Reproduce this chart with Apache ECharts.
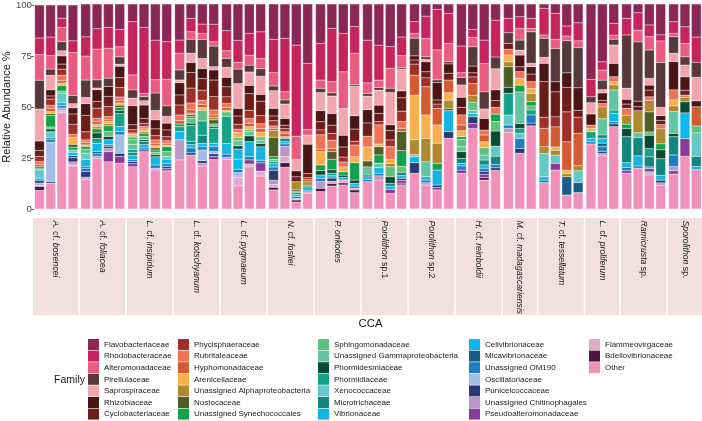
<!DOCTYPE html>
<html>
<head>
<meta charset="utf-8">
<script src="https://cdn.jsdelivr.net/npm/echarts@6.0.0/dist/echarts.min.js"></script>
<style>
  html, body { margin: 0; padding: 0; background: #fff; }
  #chart { width: 702px; height: 421px; }
</style>
</head>
<body>
<div id="chart"></div>
<script>
// family order = legend order (top of each stack first)
var families = [
    'Flavobacteriaceae', 'Rhodobacteraceae', 'Alteromonadaceae', 'Pirellulaceae', 'Saprospiraceae', 'Rhizobiaceae', 'Cyclobacteriaceae',
    'Phycisphaeraceae', 'Rubritaleaceae', 'Hyphomonadaceae', 'Arenicellaceae', 'Unassigned Alphaproteobacteria', 'Nostocaceae', 'Unassigned Synechococcales',
    'Sphingomonadaceae', 'Unassigned Gammaproteobacteria', 'Phormidesmiaceae', 'Phormidiaceae', 'Xenococcaceae', 'Microtrichaceae', 'Vibrionaceae',
    'Cellvibrionaceae', 'Micavibrionaceae', 'Unassigned OM190', 'Oscillatoriaceae', 'Puniceicoccaceae', 'Unassigned Chitinophagales', 'Pseudoalteromonadaceae',
    'Flammeovirgaceae', 'Bdellovibrionaceae', 'Other'
];
var familyColors = [
    '#8b2756', '#c5245c', '#ea5b80', '#57393c', '#f2a5ac', '#4a1515', '#6b1e19',
    '#a02f2b', '#ef7456', '#d25b31', '#f6b14c', '#ae892f', '#4e5e25', '#15a149',
    '#5ec27c', '#62c4a2', '#0c4a33', '#14a386', '#63c8c9', '#13877d', '#16b4e0',
    '#0bb9ee', '#165e86', '#1f7dc8', '#a0bee6', '#2b3a72', '#b997ca', '#8a3a9d',
    '#e3a9cb', '#4b1641', '#f191bb'
];

var facetNames = [
    'A. cf. bosencei', 'A. cf. foliacea', 'L. cf. insipidum', 'L. cf. kotschyanum', 'L. cf. pygmaeum',
    'N. cf. fosliei', 'P. onkodes', 'Porolithon sp.1', 'Porolithon sp.2', 'H. cf. reinboldii',
    'M. cf. madagascariensis', 'T. cf. tessellatum', 'L. cf. proliferum', 'Ramicrusta sp.', 'Sporolithon sp.'
];

// one row per sample, values in family order (%)
var bosencei = [
    [16,8,12.5,14,15.5,4.5,3, 2.5,1.5,1,0,0,0,1, 0.5,0,0,0,4,0,0, 1,1.5,0,0,0,1,0, 0.5,2,9],
    [15.5,9,6.5,3,7,3,1.5, 3,1.5,1.5,1,0,1,5.5, 1,0,1.3,0,3,0.8,0, 0,0,1.3,19,0.8,0,0, 0,0,12.5],
    [6.5,4.5,7,4.5,2.5,4,2.5, 3,2.5,1.3,1.2,0,0,2.8, 1,0,0,0,4.5,0,1.6, 0,0,1.2,0,0,1.3,0, 0.8,0,47.5],
    [17.5,5.7,21,4,2,3,5, 5,1.5,0,3.3,0,1.5,1.3, 0,0,0,0,1.1,0,0, 1.6,1.1,0,0,2,1.5,0, 0.5,0,21]
];
var foliacea = [
    [16,9.4,11.7,8.5,3,5.7,8, 4,1.3,1.1,0.8,0,0,1.3, 2,0,0,0,3,0,3.6, 0,0.7,1.6,0,2.8,1,0, 0,0,14.5],
    [12,10,15,4,0.8,5.7,3.3, 5,1.6,1.3,1.1,1.1,0,2, 0,0,2.6,2.4,0,0,0, 4,1.1,1.3,0,0,1,0, 0,0,24.7],
    [11.4,10.2,14.6,4,0,4.9,4.9, 4.9,1.6,0.8,1.1,1,0,2.8, 2.4,0,1.6,0,0,0,0, 2.4,0,0.8,0,1.1,1.5,5, 0,0,23],
    [12.4,8.5,4.9,3.6,1,5.5,4.9, 4.6,1.6,1.3,1.1,0,1.1,1.6, 0,0,1.3,6.5,0,0,2.4, 0,0,1.6,9,1.6,0,3.3, 0,0,22.3]
];
var insipidum = [
    [8.6,26,7.3,4,3.7,9.3,2.4, 1.6,0.8,0,0.8,0.8,0,0.8, 2.4,2.4,0,1.5,0,1.5,2, 0,0,1,0,1,0,1.5, 0,0,20.6],
    [11.4,32.2,1.6,2,2.1,6.5,2.4, 1.6,0.8,0.8,0.8,0.8,0,1.6, 1.6,0,0.8,0,0,1.6,0, 1.6,0,1,0,0.8,0,0, 0,0,28],
    [17.6,19.2,6.5,8.5,4.5,4.4,3.3, 2.1,1.6,1.1,1.1,0,1.1,1.1, 1.1,0,1.1,0,0,0,4, 0,0,1.6,0,0,0.8,0, 0,0,19],
    [18.4,18.4,13,5.2,3.3,3.3,3.3, 2,1.3,0.8,0.8,0,0,2.4, 2.4,0,0,0,1.3,0,0, 2.3,0,1.3,0,1,0,1.1, 0,0,18.7]
];
var kotschyanum = [
    [17.6,6.5,8.1,4.9,1.3,6,4.9, 4.9,2.8,1.6,0,0,0,1.3, 0,0,0,2.4,0,0,0, 4,0,0,0,0,9.8,0, 0,0,24],
    [7,6.5,3.7,6.8,4.5,4.9,7.6, 7.3,3.3,1.6,0,0.8,0.8,0.9, 2.4,0,1.1,7.8,0,1.6,0, 1.6,0,2.4,0,1.1,0,0, 0,0,26.3],
    [9.8,4.6,2.9,9.3,4.9,4.9,5.7, 4.9,2,1.6,1.3,0,0,0, 5.2,0,0,7,0,4,0, 1.6,0,1.6,5.2,1.3,1.3,0, 0,0,21],
    [9.8,8.6,2.1,10,1.6,4.9,8.1, 6.5,2.4,1.1,0,1.3,2,0, 1.3,0,0.8,7.3,0,0,0, 1.6,0,2.4,1.1,1.3,0,1.6, 0,0,24]
];
var pygmaeum = [
    [13,9.8,3.7,4.4,4.9,4.6,4.9, 3.3,2,1.3,0.8,0,0,0, 2.1,0,0,13.3,0,0,5.2, 0,0,1.6,0,0,1,0, 0,0,24.2],
    [17.6,10.6,3.3,7,12,3.7,4, 2.4,1.6,0,2.4,0,0,0, 1.6,2.4,1.6,0,0,0,4.9, 4.9,0,1.6,2.4,0,0,0, 4,0,11.2],
    [14.3,10.6,4.9,3.3,6.5,4,8.1, 4,2.4,1.6,1.3,0,0,0, 1.1,2.1,2.8,0,0,0,7.3, 0,0,1.6,0,0,0,2, 1.3,0,20.6],
    [13.5,13,4.9,3.7,8.8,3.3,7, 4,2.4,1.6,2.4,0,0,0, 1.6,1.6,1.6,0,0,0,6.5, 0,0,1.3,0,0,0,4, 2.4,0,16]
];
var fosliei = [
    [17.2,16.3,6.5,2.3,8.6,3.7,2.3, 2.6,1.1,1.1,0,3.3,9.4,1.3, 1.1,0,0,1.1,0,0,1.6, 0,0,1.6,0,4.9,2.1,0, 1.3,1.3,9.3],
    [16.7,26,4,2,7,3.3,1.6, 1.6,0.8,1.6,0.8,0,0,0, 0,0,0,0,0,1.6,1.1, 0,0,1.3,0,0,4.9,0, 2.9,2.3,20.3],
    [20,44.4,11.4,0,5.5,2.9,2.4, 0,0,0,0,4,0.8,0.5, 0,0,0,1.1,0,0,0.8, 0,0,1,0,0,0,0, 0.7,1,3.4],
    [29,32.2,2.8,0,4.4,14.3,2, 1,0,1.1,0,1.6,0,0.8, 0,0,0,0,0,0,1.6, 0,0,0.8,0,0,0,0, 0.8,0,7.6]
];
var onkodes = [
    [19.2,17.9,4,2.1,8.8,5.4,4, 2.4,7,1.2,6.5,0,0,2.8, 0,0,2.1,0,0,0,1.6, 0,0,1.6,0,0,3.3,0, 0,1.6,8.5],
    [11.9,26,5.4,1.6,8.5,5.7,4, 3.3,4,1.6,0,0,3.7,5.2, 0,0,1.6,1.3,0,0,1.1, 0,0,0,0,1.6,0,0, 1,1.3,11.2],
    [14.3,18.7,17.9,0,13,5.7,4.9, 2.4,2.4,0,2.4,0,0,1.6, 0,0,1.1,0,0,0,1.3, 0,0,0,0,0,0,0, 1.4,1,11.7],
    [11,13,15.4,0.8,14.3,6.5,6, 1.8,5.7,0,2.9,0,0,8.5, 0,0,1.6,0,0,0,1.3, 0,0,1.1,0,0,0.8,0, 0,1.3,8]
];
var porolithon1 = [
    [17.6,20.8,5.2,1.3,6.5,6.5,6.5, 0,5.2,0,6.8,0,2.9,0, 0,4,0.8,0,0,0,1.3, 0,0,1.1,0,0,0,0, 0,0,13.3],
    [20,17,3.6,1.3,7.3,4,4, 1.6,9.3,0,1.3,0,4,4, 0,2,0,0,0,0,2.9, 0,0,1.3,0,0,2,0, 0,0,14.1],
    [20.8,10.6,9.8,2.1,15.8,2.8,4.6, 3.3,6.2,0,2,1.6,0,0, 4.9,0,3.3,0,0,1.3,1.6, 0,0,0,0,0,0,2, 0,0,7.6],
    [16,9,5.7,0.8,10.6,3.3,6.5, 5,3.3,1.5,0,0,9.3,7.6, 2.9,0,0,0,0,1.6,0, 1.3,0,0,0,1.1,0,1.3, 0,0.8,11.7]
];
var porolithon2 = [
    [8.6,5.7,2.4,8.6,0,2,2, 5.4,0,9.8,21.7,7.3,0,0, 0,0,0,0,1,0,0, 2.9,0,0,0,5.2,0,0, 0,0,17.4],
    [5.9,10.9,8.9,1.3,1.1,4.9,3, 4.3,0,13.8,11.4,11.4,0,0, 0,7.3,0,0,0,0,1.6, 0,0,1.3,0,0,1.1,0, 0,0,11.7],
    [2.6,19.8,14.6,1.3,0,8.5,2, 2.1,0,8.1,8.9,9.8,0,3.3, 0,0,0,0,0,0,7.3, 0,0,0,0,1.2,0,1.2, 0,0,9.3],
    [4.6,14.6,8.9,1.1,0,4.6,3.3, 0,0,6.2,3.6,4,1.1,0, 0,0,0,0,0,0,10.2, 0,0,0,0,3.3,0,0, 0,0,34.5]
];
var reinboldii = [
    [20.5,13,2.3,3.7,6,4.9,3.7, 0,4.9,2.8,2.9,0,0,1.3, 3.6,2.4,3.3,0,0,2.4,1.3, 0,0,2,0,0,0,1.6, 0,0,17.4],
    [12.4,3.9,4.6,9.4,0,3.3,2, 3.3,0,5.7,0,3.3,0,0, 4,1.6,0,0,0,0,1.6, 0,0,0,0,3.3,0,2.4, 0,0,39.3],
    [17.6,11.4,13.8,8.4,4.6,5.7,0, 0,2.4,3.3,2.9,0,0,0, 3.6,2.4,0,0,0,2.4,1.6, 0,0,1.6,0,1.3,0,1.6, 0,1.3,14.1],
    [7.8,17.9,0,5.7,10.2,5.2,3.3, 0,3.3,0,0,0,0,3.6, 4.6,0,7.3,0,4.9,4,0, 0,0,1.6,0,1.3,0,0, 0,0,18.7]
];
var madagascariensis = [
    [7,7,0,5.2,0,0,2.9, 0,2.8,0,3.3,2.4,10,0, 0,0,2.9,10.6,4.9,0,0, 0,0,1.6,0,0,2.1,0, 0,0,37.2],
    [6.2,5.7,5.7,4.9,2.4,5.7,2.4, 0,3.3,0,3.3,0,0,3.3, 0,15.4,2.4,2.4,2.4,0,0, 0,0,4.9,0,2.4,0,0, 0,0,27.2],
    [7,4.9,1.6,15.4,1.6,3.6,3.7, 0,3.3,0,2.4,4,0,2.1, 2,0,0,2.4,0,0,0, 0,0,4,0,1.3,0,0, 0,0,40.5]
];
var tessellatum = [
    [2.1,13,1.6,9.3,2.9,8.9,17.4, 5.4,0,8.9,0,3.3,0,0, 0,0,0,0,11.4,0,1.6, 0,0,1.3,0,0,0,0, 0,0,12.8],
    [4.6,12.7,4.4,16.3,0,4.9,12.2, 4.9,0,9.8,1.6,2.4,0,0, 0,0,0,0,4,0,0, 0,0,0,0,0,0,3.3, 0,0,19],
    [10.7,4.9,2.3,15.6,0,7,12, 14.6,0,13.8,1.6,1.6,0,0, 0,0,0,0,0,0,0, 0,8.9,0,0,0,0,0, 0,0,6.8],
    [9.1,8.8,3.3,19.5,0,11,3.3, 7.8,0,15.8,0,2.4,0,0, 0,0,0,0,5.7,0,0, 0,4.9,0,0,0,0,0, 0,0,8]
];
var proliferum = [
    [36.7,8.5,0,2.9,5.5,5.4,0, 0,1.6,0,1.6,0,0,0, 0,0,0,3.3,0,0,1.6, 0,0,1.1,0,0,0,0, 0,0,31.7],
    [28.1,4,4.9,4.6,1.6,3.6,1.6, 0,1.6,0,0,5.7,0,0, 0,7.9,0,0,0,1.6,2.4, 0,1.6,2.4,0,1,1,0, 0,0,26],
    [9.4,5.7,2,2.8,8.9,6.5,0, 0,2.4,0,1.6,2.4,0,0, 0,9.8,0,1.6,0,0,0, 4,0,1.1,0,1.3,0,0, 0,0,40]
];
var ramicrusta = [
    [7,8.1,0,26,5.4,2.3,2.1, 0,3.3,0,0,4.4,0,2.1, 0,0,4,0,0,12.7,2.3, 0,0,1.6,0,0,0,1.3, 0,0,17.4],
    [4.2,8.5,5.7,28.8,0,2.6,2, 0,0,0,0,10.6,0,0, 0,2.4,0,0,0,8.9,4.9, 0,0,1.1,0,0,0,0, 0,0,19.8],
    [10.2,5.7,6.5,13.8,3.3,2.4,3.3, 0,1.6,0,0,5.7,9.8,0, 1.6,0,6.5,4,0,4.9,0.8, 0,0,0,0,0,0,1.6, 1.5,0,16.6],
    [15.1,3,10.5,22,4,2.4,2, 0,2.1,0,0,7.3,0,2.9, 0,0,4.4,0,0,8.1,2.4, 0,0,0,0,1.3,1.1,0, 0,0,11.7]
];
var sporolithon = [
    [8.6,5.7,1.6,8.1,4,13.8,0, 0,4.9,0,2.9,2.8,0,0, 0,10.6,1.6,0,0,8.9,0, 0,0,5.7,0,0,2,1.6, 0,0,17],
    [11,8.1,6.5,4,5.7,6.5,2.4, 0,1.1,0,0,2.1,0,0, 0,0,5.4,0,0,0,0, 12.5,0,0,0,0,0,8.6, 0,0,25.5],
    [16,12.2,0,7.3,11.4,2.9,0, 0,0,9.3,0,0,0,0, 3.3,0,0,0,11.4,4.9,1.6, 0,0,0,0,0,0,0, 0,0,19]
];

var facetBars = [bosencei, foliacea, insipidum, kotschyanum, pygmaeum, fosliei, onkodes,
    porolithon1, porolithon2, reinboldii, madagascariensis, tessellatum, proliferum, ramicrusta, sporolithon];
var yTicks = [0, 25, 50, 75, 100];

(function () {
    var FONT = '"Liberation Sans", Arial, sans-serif';
    var chart = echarts.init(document.getElementById('chart'), null, {renderer: 'canvas'});

    var plotLeft = 33, plotRight = 702, panelGap = 1.5;
    var plotTop = 4, plotHeight = 205;
    var stripTop = 218, stripHeight = 97;

    var nBars = 0;
    facetBars.forEach(function (f) { nBars += f.length; });
    var unit = (plotRight - plotLeft - panelGap * (facetBars.length - 1)) / nBars;

    var grids = [], xAxes = [], yAxes = [], series = [], graphics = [];
    var x = plotLeft;

    facetBars.forEach(function (bars, g) {
        var w = bars.length * unit;
        grids.push({left: x, top: plotTop, width: w, height: plotHeight});
        xAxes.push({
            gridIndex: g, type: 'category',
            data: bars.map(function (b, i) { return String(i + 1); }),
            axisLine: {show: false}, axisTick: {show: false}, axisLabel: {show: false}
        });
        var yAx = {
            gridIndex: g, type: 'value', min: yTicks[0], max: yTicks[yTicks.length - 1], interval: 25,
            splitLine: {show: false}, axisLine: {show: false}
        };
        if (g === 0) {
            yAx.axisTick = {show: true, length: 2.5, lineStyle: {color: '#333', width: 0.8}};
            yAx.axisLabel = {fontSize: 9.6, color: '#4d4d4d', margin: 2, fontFamily: FONT};
            yAx.name = 'Relative Abundance %';
            yAx.nameLocation = 'middle';
            yAx.nameGap = 20;
            yAx.nameTextStyle = {fontSize: 11, color: '#1a1a1a', fontFamily: FONT};
        } else {
            yAx.axisTick = {show: false};
            yAx.axisLabel = {show: false};
        }
        yAxes.push(yAx);

        // relative abundance: each sample scaled to 100 %
        var totals = bars.map(function (b) { return b.reduce(function (s, v) { return s + v; }, 0); });

        // Other first so it sits at the bottom of the stack
        for (var f = families.length - 1; f >= 0; f--) {
            series.push({
                type: 'bar', name: families[f],
                xAxisIndex: g, yAxisIndex: g, stack: 'facet' + g,
                barWidth: '86%',
                itemStyle: {color: familyColors[f], borderColor: '#fff', borderWidth: 0.25},
                data: bars.map(function (b, i) { return b[f] ? b[f] / totals[i] * 100 : null; })
            });
        }

        // facet strip below the panel
        graphics.push({
            type: 'rect', silent: true,
            shape: {x: x, y: stripTop, width: w, height: stripHeight},
            style: {fill: '#f2dfe2'}
        });
        var label = facetNames[g].split(' ').map(function (word) {
            return /^(cf\.|sp\.)/.test(word) ? '{n|' + word + '}' : '{i|' + word + '}';
        }).join('{n| }');
        graphics.push({
            type: 'text', silent: true,
            x: x + w / 2, y: stripTop + 2.5, rotation: -Math.PI / 2,
            style: {
                text: label, align: 'left', verticalAlign: 'middle',
                fill: '#1a1a1a', fontSize: 8.7, fontFamily: FONT,
                rich: {
                    i: {fontStyle: 'italic', fontSize: 8.7, fontFamily: FONT, fill: '#1a1a1a'},
                    n: {fontStyle: 'normal', fontSize: 8.7, fontFamily: FONT, fill: '#1a1a1a'}
                }
            }
        });

        x += w + panelGap;
    });

    graphics.push({
        type: 'text', silent: true, x: (plotLeft + plotRight) / 2 + 3, y: 324,
        style: {text: 'CCA', align: 'center', verticalAlign: 'middle', fontSize: 11.4, fontFamily: FONT, fill: '#1a1a1a'}
    });
    graphics.push({
        type: 'text', silent: true, x: 85, y: 380,
        style: {text: 'Family', align: 'right', verticalAlign: 'middle', fontSize: 10.5, fontFamily: FONT, fill: '#1a1a1a'}
    });

    // legend: 5 columns of 7 keys, like the ggplot guide
    var legendLefts = [88, 178, 318, 469, 589];
    var legends = legendLefts.map(function (left, c) {
        return {
            left: left, top: 339, orient: 'vertical', padding: 0,
            itemWidth: 11, itemHeight: 11, itemGap: 0.6,
            icon: 'rect', selectedMode: false,
            itemStyle: {borderWidth: 0},
            textStyle: {fontSize: 8, color: '#222', fontFamily: FONT},
            data: families.slice(c * 7, c * 7 + 7)
        };
    });

    chart.setOption({
        animation: false,
        backgroundColor: '#fff',
        textStyle: {fontFamily: FONT},
        grid: grids,
        xAxis: xAxes,
        yAxis: yAxes,
        legend: legends,
        series: series,
        graphic: graphics
    });
})();
</script>
</body>
</html>
